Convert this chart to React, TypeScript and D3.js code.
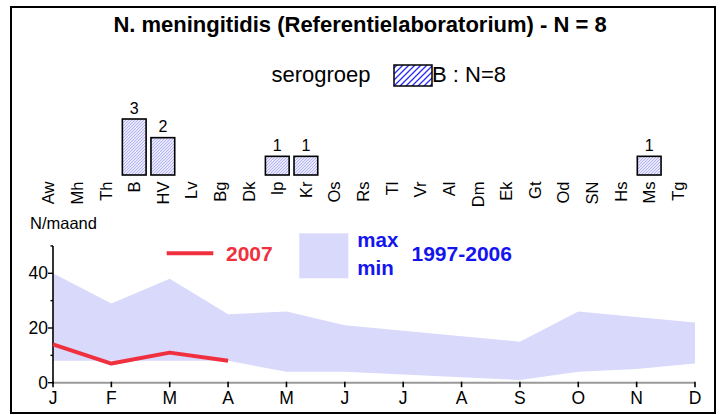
import React from "react";
import * as d3 from "d3";

const categories = ["Aw","Mh","Th","B","HV","Lv","Bg","Dk","Ip","Kr","Os","Rs","Tl","Vr","Al","Dm","Ek","Gt","Od","SN","Hs","Ms","Tg"];
const counts = [0,0,0,3,2,0,0,0,1,1,0,0,0,0,0,0,0,0,0,0,0,1,0];

const months = ["J","F","M","A","M","J","J","A","S","O","N","D"];
const maxValues = [40,29,38,25,26,21,19,17,15,26,24,22];
const minValues = [8,8,8,8,4,4,3,2,1,4,5,7];
const values2007 = [14,7,11,8];
const yTicks = [0,20,40];
const yMinorTicks = [10,30,50];

const FONT = "Arial, 'Liberation Sans', Helvetica, sans-serif";

export default function App() {
  const xb = d3.scaleBand<string>().domain(categories).range([34.1, 692.1]).paddingInner(0.17).paddingOuter(0.085);
  const yb = d3.scaleLinear().domain([0, 3]).range([175, 119]);

  const idx = months.map((_, i) => i);
  const xm = d3.scalePoint<number>().domain(idx).range([53, 695]);
  const ym = d3.scaleLinear().domain([0, 50]).range([382.7, 245.95]);

  const area = d3.area<number>()
    .x((i) => xm(i) as number)
    .y0((i) => ym(minValues[i]))
    .y1((i) => ym(maxValues[i]));
  const line = d3.line<number>()
    .x((_, i) => xm(i) as number)
    .y((v) => ym(v));

  const bandFill = "#d9d9fc";
  const red = "#f0303e";
  const blue = "#1414f0";

  return (
    <svg width={724} height={415} style={{ position: "absolute", left: 0, top: 0, background: "#fff" }} fontFamily={FONT}>
      <defs>
        <pattern id="barHatch" patternUnits="userSpaceOnUse" width={3} height={3}>
          <rect width={3} height={3} fill="#e8e8fc" />
          <path d="M-0.75,0.75 l1.5,-1.5 M0,3 l3,-3 M2.25,3.75 l1.5,-1.5" stroke="#a4a4f2" strokeWidth={0.8} />
        </pattern>
        <pattern id="legHatch" patternUnits="userSpaceOnUse" width={6} height={6}>
          <rect width={6} height={6} fill="#fff" />
          <path d="M-1.5,1.5 l3,-3 M0,6 l6,-6 M4.5,7.5 l3,-3" stroke="#2a2af5" strokeWidth={1.3} />
        </pattern>
      </defs>
      <rect x={0} y={0} width={724} height={415} fill="#fff" />
      <rect x={11} y={7} width={704} height={406} fill="none" stroke="#000" strokeWidth={2} />

      <text x={360} y={31.5} textAnchor="middle" fontSize={22} fontWeight="bold">N. meningitidis (Referentielaboratorium) - N = 8</text>

      <text x={271.5} y={82} fontSize={22}>serogroep</text>
      <rect x={394} y={65} width={38} height={21} fill="url(#legHatch)" stroke="#000" strokeWidth={1.5} />
      <text x={432} y={82} fontSize={22}>B : N=8</text>

      {categories.map((c, i) => {
        const x0 = xb(c) as number;
        const cx = x0 + xb.bandwidth() / 2;
        const v = counts[i];
        return (
          <g key={c + i}>
            {v > 0 && (
              <>
                <rect x={x0} y={yb(v)} width={xb.bandwidth()} height={yb(0) - yb(v)} fill="url(#barHatch)" stroke="#000" strokeWidth={1.6} />
                <text x={cx} y={yb(v) - 5.5} textAnchor="middle" fontSize={16}>{v}</text>
              </>
            )}
            <text transform={`translate(${cx + 6},181.5) rotate(-90)`} textAnchor="end" fontSize={16.5}>{c}</text>
          </g>
        );
      })}

      <text x={30} y={229} fontSize={16.5}>N/maand</text>

      <path d={area(idx) as string} fill={bandFill} />

      <line x1={53} x2={695} y1={ym(0)} y2={ym(0)} stroke="#9a9a9a" strokeWidth={2} />
      {idx.map((i) => (
        <g key={i}>
          <line x1={xm(i) as number} x2={xm(i) as number} y1={ym(0) - 1} y2={ym(0) + 4.5} stroke="#000" strokeWidth={1.6} />
          <text x={xm(i) as number} y={404} textAnchor="middle" fontSize={17.5}>{months[i]}</text>
        </g>
      ))}
      <line x1={53} x2={53} y1={ym(0) + 1} y2={ym(50)} stroke="#000" strokeWidth={1.6} />
      {yTicks.map((t) => (
        <g key={t}>
          <line x1={48} x2={53} y1={ym(t)} y2={ym(t)} stroke="#000" strokeWidth={1.4} />
          <text x={48} y={ym(t) + 6} textAnchor="end" fontSize={17.5}>{t}</text>
        </g>
      ))}
      {yMinorTicks.map((t) => (
        <line key={t} x1={50.5} x2={53} y1={ym(t)} y2={ym(t)} stroke="#000" strokeWidth={1.4} />
      ))}

      <path d={line(values2007) as string} fill="none" stroke={red} strokeWidth={4} strokeLinejoin="round" />

      <line x1={166.7} x2={213.3} y1={253.3} y2={253.3} stroke={red} strokeWidth={4} />
      <text x={226} y={261} fontSize={21} fontWeight="bold" fill={red}>2007</text>

      <rect x={299.3} y={233.3} width={49} height={45} fill={bandFill} />
      <text x={357.3} y={246.7} fontSize={20.5} fontWeight="bold" fill={blue}>max</text>
      <text x={357.3} y={275} fontSize={20.5} fontWeight="bold" fill={blue}>min</text>
      <text x={411.5} y={260.7} fontSize={21} fontWeight="bold" fill={blue}>1997-2006</text>
    </svg>
  );
}
